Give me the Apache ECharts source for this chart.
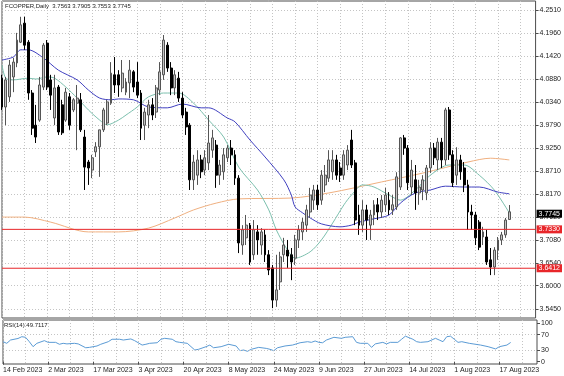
<!DOCTYPE html>
<html>
<head>
<meta charset="utf-8">
<script src="https://cdn.jsdelivr.net/npm/echarts@6/dist/echarts.min.js"></script>
<style>
  html, body { margin: 0; padding: 0; background: #fff; }
  #chart { width: 564px; height: 376px; }
</style>
</head>
<body>
<div id="chart"></div>
<script>
// daily bars, each row: open, high, low, close
const candles = [
  [4.090,4.098,4.015,4.022],[4.022,4.093,3.979,4.086],[4.046,4.133,4.034,4.121],[4.093,4.138,4.057,4.128],
  [4.126,4.197,4.116,4.180],[4.175,4.235,4.173,4.216],[4.220,4.235,4.157,4.168],[4.175,4.180,4.039,4.055],
  [4.055,4.062,3.956,3.972],[3.979,4.027,3.937,3.951],[3.991,4.093,3.987,4.074],[4.069,4.173,4.062,4.168],
  [4.173,4.180,4.062,4.069],[4.086,4.098,4.015,4.050],[3.996,4.098,3.979,4.067],[4.069,4.074,3.956,3.963],
  [4.027,4.039,3.956,3.961],[3.991,4.067,3.987,4.057],[4.046,4.055,3.968,3.979],[4.015,4.043,4.010,4.039],
  [4.031,4.074,3.920,4.043],[4.039,4.055,3.963,3.968],[3.951,3.968,3.826,3.880],[3.892,3.897,3.838,3.878],
  [3.873,3.909,3.854,3.902],[3.916,3.939,3.904,3.928],[3.928,3.968,3.857,3.968],[3.968,4.020,3.963,4.015],
  [3.984,4.039,3.979,4.034],[4.031,4.128,4.027,4.102],[4.098,4.140,4.055,4.074],[4.098,4.109,4.046,4.074],
  [4.067,4.133,4.057,4.102],[4.057,4.090,4.050,4.081],[4.079,4.133,4.043,4.109],[4.105,4.109,4.057,4.069],
  [4.081,4.128,4.043,4.050],[4.055,4.062,3.944,3.972],[3.979,4.020,3.944,4.010],[4.003,4.039,3.972,4.027],
  [4.027,4.043,3.991,4.003],[4.010,4.074,3.996,4.067],[4.062,4.128,4.050,4.105],[4.098,4.192,4.086,4.180],
  [4.168,4.175,4.105,4.114],[4.114,4.128,4.050,4.067],[4.067,4.109,4.050,4.098],[4.090,4.105,4.034,4.043],
  [4.043,4.057,3.996,4.003],[4.010,4.020,3.956,3.975],[3.979,3.984,3.826,3.850],[3.850,3.909,3.826,3.892],
  [3.861,3.920,3.838,3.897],[3.897,3.909,3.854,3.869],[3.873,3.920,3.861,3.902],[3.890,4.003,3.873,3.937],
  [3.920,3.968,3.902,3.949],[3.932,3.944,3.831,3.861],[3.861,3.897,3.838,3.885],[3.869,3.925,3.850,3.909],
  [3.902,3.932,3.892,3.925],[3.925,3.944,3.885,3.909],[3.909,3.920,3.838,3.854],[3.854,3.861,3.677,3.701],
  [3.696,3.743,3.673,3.732],[3.713,3.767,3.696,3.743],[3.743,3.748,3.649,3.656],[3.673,3.755,3.661,3.732],
  [3.727,3.743,3.673,3.708],[3.696,3.736,3.673,3.727],[3.720,3.732,3.656,3.673],[3.673,3.684,3.625,3.637],
  [3.642,3.649,3.547,3.566],[3.566,3.673,3.550,3.590],[3.609,3.680,3.590,3.668],[3.673,3.713,3.656,3.696],
  [3.684,3.708,3.642,3.670],[3.673,3.689,3.613,3.656],[3.665,3.720,3.649,3.708],[3.708,3.743,3.689,3.732],
  [3.727,3.760,3.708,3.750],[3.743,3.791,3.727,3.779],[3.774,3.831,3.760,3.814],[3.802,3.838,3.779,3.826],
  [3.826,3.838,3.779,3.791],[3.802,3.873,3.791,3.861],[3.838,3.885,3.821,3.861],[3.854,3.920,3.845,3.897],
  [3.869,3.920,3.850,3.897],[3.897,3.909,3.850,3.861],[3.878,3.892,3.845,3.861],[3.861,3.920,3.850,3.909],
  [3.885,3.932,3.873,3.920],[3.944,3.968,3.878,3.885],[3.890,3.897,3.743,3.755],[3.767,3.791,3.720,3.743],
  [3.743,3.802,3.727,3.779],[3.779,3.791,3.708,3.755],[3.743,3.779,3.708,3.767],[3.767,3.802,3.743,3.791],
  [3.791,3.807,3.755,3.774],[3.774,3.814,3.760,3.802],[3.791,3.831,3.774,3.814],[3.802,3.821,3.767,3.779],
  [3.779,3.814,3.767,3.791],[3.786,3.868,3.779,3.857],[3.833,3.951,3.826,3.949],[3.949,3.956,3.909,3.925],
  [3.925,3.932,3.826,3.843],[3.833,3.897,3.814,3.873],[3.850,3.885,3.779,3.819],[3.819,3.850,3.791,3.833],
  [3.826,3.861,3.802,3.850],[3.819,3.885,3.802,3.878],[3.878,3.939,3.866,3.925],[3.925,3.937,3.885,3.902],
  [3.897,3.949,3.873,3.939],[3.939,3.949,3.878,3.897],[3.897,4.020,3.885,4.015],[4.015,4.022,3.897,3.909],
  [3.909,3.920,3.833,3.843],[3.861,3.927,3.838,3.897],[3.897,3.909,3.850,3.869],[3.878,3.892,3.821,3.838],
  [3.838,3.850,3.732,3.774],[3.774,3.791,3.732,3.767],[3.767,3.774,3.696,3.713],[3.750,3.755,3.684,3.691],
  [3.715,3.739,3.696,3.727],[3.715,3.732,3.649,3.656],[3.661,3.689,3.625,3.644],[3.644,3.691,3.625,3.684],
  [3.684,3.715,3.661,3.708],[3.708,3.727,3.696,3.720],[3.720,3.760,3.713,3.755],[3.7563,3.7905,3.7553,3.7745]
];

// moving averages: [bar, price]
const maBlue = [
  [0,4.133],[3,4.140],[5,4.157],[7,4.157],[11,4.138],[15,4.109],[20,4.086],[23,4.062],[26,4.043],[29,4.039],
  [31,4.041],[35,4.039],[39,4.022],[44,4.020],[48,4.029],[53,4.020],[55,4.020],[60,3.996],[62,3.987],[66,3.944],
  [70,3.904],[75,3.850],[77,3.814],[78,3.786],[80,3.772],[82,3.760],[85,3.746],[90,3.739],[93,3.743],[95,3.750],
  [99,3.758],[103,3.767],[106,3.795],[110,3.819],[114,3.826],[118,3.835],[123,3.833],[127,3.833],[132,3.821],[135,3.817]
];
const maGreen = [
  [0,4.121],[1,4.090],[3,4.086],[7,4.090],[9,4.088],[12,4.093],[14,4.090],[17,4.069],[20,4.043],[23,4.015],
  [26,3.991],[28,3.980],[31,3.991],[33,4.003],[36,4.022],[39,4.046],[43,4.055],[47,4.055],[51,4.031],[55,3.991],
  [59,3.951],[63,3.880],[68,3.826],[71,3.779],[73,3.732],[76,3.684],[78,3.665],[82,3.680],[85,3.708],[88,3.748],
  [91,3.791],[93,3.814],[96,3.838],[99,3.833],[103,3.814],[106,3.802],[110,3.826],[114,3.861],[119,3.885],[123,3.885],
  [127,3.861],[131,3.826],[135,3.772]
];
const maTan = [
  [0,3.762],[6,3.762],[13,3.750],[23,3.727],[31,3.727],[39,3.736],[46,3.760],[51,3.779],[57,3.795],[63,3.805],
  [77,3.807],[87,3.819],[101,3.845],[112,3.866],[124,3.892],[130,3.901],[135,3.897]
];

// RSI(14): [bar, value]
const rsi14 = [
  [0,51.7],[1,47.5],[2,56],[4,60],[5,64.6],[6,63],[7,51.7],[8,38.8],[9,47.5],[11,54.4],[12,50],[14,50],[15,45],
  [16,47.5],[17,46],[19,47.5],[20,46],[22,36],[23,37],[25,40.6],[26,45],[28,51.7],[29,58],[31,58],[32,56],[34,58.8],
  [35,54.4],[37,43],[38,45],[39,47.5],[41,49],[42,58],[43,60.4],[45,58],[46,51.7],[47,50],[49,47.5],[51,30.2],
  [52,32],[54,38.8],[55,43],[56,36],[58,38.8],[60,45],[62,40.6],[63,28.5],[64,30.2],[65,26.8],[66,32],[68,37],
  [70,34.4],[71,32],[72,28.5],[73,36],[75,40.6],[77,43],[79,49],[81,51.7],[82,50],[83,53.5],[84,50],[85,49],
  [86,56],[88,63],[90,60.4],[91,63],[93,64.6],[94,50],[95,47.5],[97,47.5],[98,37],[99,46],[101,50],[102,46],
  [103,50],[105,50],[106,58],[107,66],[109,58],[110,51.7],[111,50],[113,51.7],[115,60.4],[116,56],[117,51.7],
  [118,64.6],[119,66],[120,58],[121,50],[122,51.7],[124,47.5],[125,46],[127,43],[129,38.8],[131,33],[132,38.8],
  [134,43],[135,49.7117]
];

const dateLabels = ['14 Feb 2023','2 Mar 2023','17 Mar 2023','3 Apr 2023','20 Apr 2023','8 May 2023',
  '24 May 2023','9 Jun 2023','27 Jun 2023','14 Jul 2023','1 Aug 2023','17 Aug 2023'];
const priceTicks = [4.2510,4.1960,4.1420,4.0880,4.0340,3.9790,3.9250,3.8710,3.8170,3.7620,3.7080,3.6540,3.6000,3.5450];
const rsiTicks = [0, 30, 70, 100];
const rsiLevels = [30, 70];
const redLevels = [3.7330, 3.6412];

const slots = 143; // bars plus empty space on the right
const categories = [];
for (let i = 0; i < slots; i++) categories.push(i % 12 === 0 ? (dateLabels[i / 12] || '') : '');

const last = candles[candles.length - 1];
const lastRsi = rsi14[rsi14.length - 1][1];
const font = 'Liberation Sans';
const red = '#e8262a';
const gridDots = () => ({ color: '#c4c4c4', type: [1, 2], width: 1 });
const tagLabel = (text, bg) => ({
  show: true, formatter: text, color: '#fff', backgroundColor: bg,
  fontSize: 7, fontFamily: font, padding: [1, 2, 0, 2], distance: 1
});

// horizontal support/resistance levels, spanning the whole time axis
const levelSeries = redLevels.map(v => ({
  type: 'line', xAxisIndex: 0, yAxisIndex: 0, z: 6, silent: true,
  data: [[0, v], [slots - 1, v]], showSymbol: false,
  lineStyle: { color: red, width: 1 },
  endLabel: Object.assign(tagLabel(v.toFixed(4), red), { align: 'left' })
}));

const chart = echarts.init(document.getElementById('chart'));
chart.setOption({
  animation: false,
  backgroundColor: '#fff',
  grid: [
    { left: 2, top: 1, right: 27, height: 317, show: true, borderColor: '#4d4d4d', borderWidth: 1 },
    { left: 2, top: 320, right: 27, height: 44, show: true, borderColor: '#4d4d4d', borderWidth: 1 }
  ],
  xAxis: [
    { type: 'category', gridIndex: 0, data: categories, boundaryGap: false,
      axisLine: { show: false }, axisTick: { show: false }, axisLabel: { show: false },
      splitLine: { show: true, interval: 5, lineStyle: gridDots() } },
    { type: 'category', gridIndex: 1, data: categories, boundaryGap: false,
      axisLine: { show: false },
      axisTick: { show: true, interval: 11, length: 3, lineStyle: { color: '#4d4d4d' } },
      axisLabel: { interval: 11, align: 'left', fontSize: 7, fontFamily: font, color: '#222', margin: 3 },
      splitLine: { show: true, interval: 5, lineStyle: gridDots() } }
  ],
  yAxis: [
    { type: 'value', gridIndex: 0, position: 'right', min: 3.5237, max: 4.2723,
      axisLine: { show: false },
      axisTick: { show: true, length: 3, customValues: priceTicks, lineStyle: { color: '#4d4d4d' } },
      axisLabel: { customValues: priceTicks, formatter: v => v.toFixed(4), fontSize: 7, fontFamily: font, color: '#222', margin: 4 },
      splitLine: { show: true, lineStyle: gridDots() } },
    { type: 'value', gridIndex: 1, position: 'right', min: -6, max: 107.8,
      axisLine: { show: false },
      axisTick: { show: true, length: 3, customValues: rsiTicks, lineStyle: { color: '#4d4d4d' } },
      axisLabel: { customValues: rsiTicks, fontSize: 7, fontFamily: font, color: '#222', margin: 4 },
      splitLine: { show: false } }
  ],
  series: [
    { type: 'candlestick', xAxisIndex: 0, yAxisIndex: 0, z: 3, barWidth: 2.4,
      data: candles.map(([o, h, l, c]) => [o, c, l, h]),
      itemStyle: { color: '#c4c4c4', color0: '#000', borderColor: '#555', borderColor0: '#000', borderWidth: 1 } },
    { type: 'line', xAxisIndex: 0, yAxisIndex: 0, data: maTan, showSymbol: false, smooth: 0.3,
      lineStyle: { color: '#f0b080', width: 1 }, z: 2 },
    { type: 'line', xAxisIndex: 0, yAxisIndex: 0, data: maGreen, showSymbol: false, smooth: 0.3,
      lineStyle: { color: '#7cc0ae', width: 1 }, z: 2 },
    { type: 'line', xAxisIndex: 0, yAxisIndex: 0, data: maBlue, showSymbol: false, smooth: 0.3,
      lineStyle: { color: '#4040c0', width: 1 }, z: 2,
      markLine: {
        silent: true, symbol: ['none', 'none'], z: 10,
        lineStyle: { color: 'rgba(0,0,0,0)' },
        data: [{ yAxis: last[3], label: Object.assign(tagLabel(last[3].toFixed(4), '#000'), { position: 'end' }) }]
      } },
    ...levelSeries,
    { type: 'line', xAxisIndex: 1, yAxisIndex: 1, data: rsi14, showSymbol: false,
      lineStyle: { color: '#5b9bd5', width: 1 },
      markLine: { silent: true, symbol: ['none', 'none'], label: { show: false },
        lineStyle: gridDots(), data: rsiLevels.map(v => ({ yAxis: v })) } }
  ],
  graphic: [
    { type: 'text', left: 5, top: 3, z: 20,
      style: { text: 'FCOPPER,Daily  ' + last.map(v => v.toFixed(4)).join(' '),
        font: '6px "Liberation Sans"', fill: '#222' } },
    { type: 'text', left: 4, top: 322, z: 20,
      style: { text: 'RSI(14) ' + lastRsi.toFixed(4), font: '6px "Liberation Sans"', fill: '#222' } }
  ]
});
</script>
</body>
</html>
